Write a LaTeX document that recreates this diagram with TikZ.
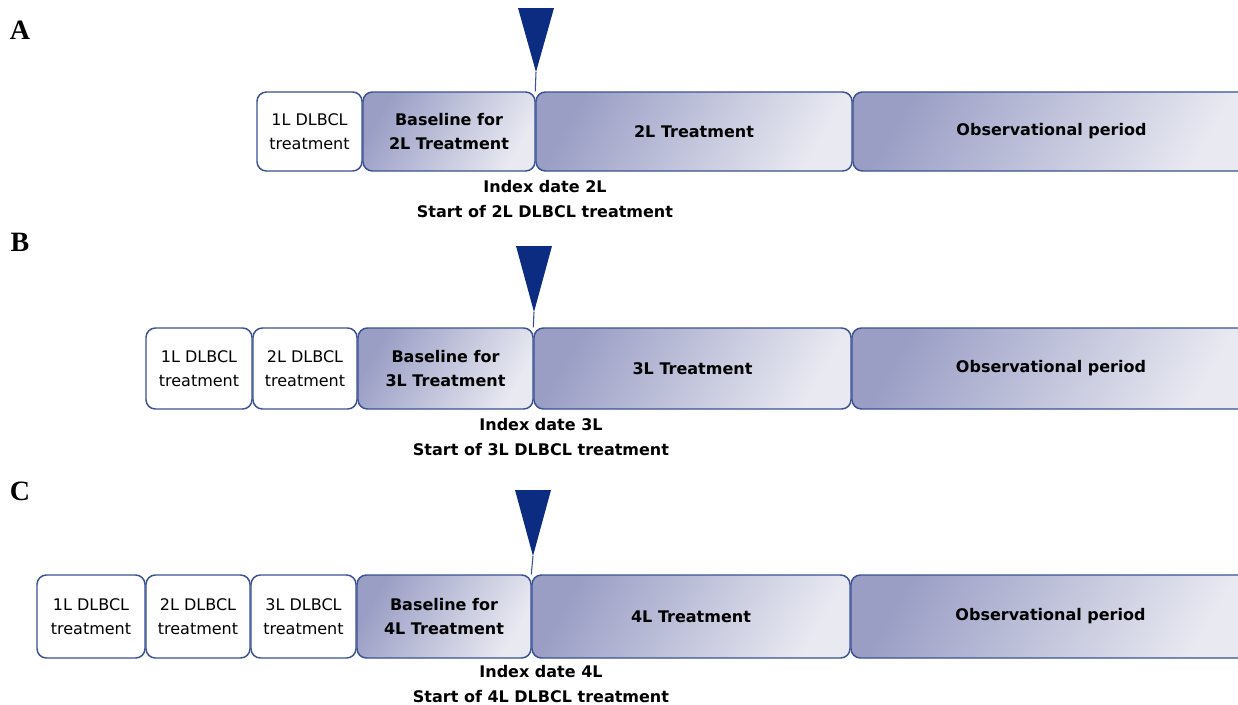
\documentclass[tikz,border=0pt]{standalone}
\usepackage{fontspec}
\setmainfont{DejaVu Sans}
\newfontfamily\panelfont{Liberation Serif}
\definecolor{boxline}{HTML}{3A5293}
\definecolor{shadedark}{HTML}{9A9EC5}
\definecolor{shadelight}{HTML}{E8E9F1}
\definecolor{marker}{HTML}{0B2C80}

\begin{document}
\begin{tikzpicture}[x=0.75pt, y=-0.75pt,
    sized/.style 2 args={minimum width=#1*0.75pt, minimum height=#2*0.75pt},
    plain/.style={draw=boxline, line width=1.1pt, rounded corners=7pt, fill=white, inner sep=0pt, align=center, font=\fontsize{12}{18}\selectfont},
    shaded/.style={plain, left color=shadedark, right color=shadelight, shading angle=60, font=\fontsize{12}{18}\selectfont\bfseries},
    panel/.style={font=\fontsize{21}{21}\selectfont\panelfont\bfseries},
    caption/.style={align=center, font=\fontsize{12}{18.75}\selectfont\bfseries},
    tip/.style={fill=marker},
    stem/.style={draw=boxline, line width=0.8pt}]
    \useasboundingbox (0,0) rectangle (1238,704);

    % A
    \node[panel] (pa) at (20,30) {A};
    \node[plain, sized={105}{79}] (a1) at (309.5,131.5) {1L DLBCL\\treatment};
    \node[shaded, sized={172}{79}] (a2) at (449,131.5) {Baseline for\\2L Treatment};
    \node[shaded, sized={316}{79}] (a3) at (694,131.5) {2L Treatment};
    \node[shaded, sized={397}{79}] (a4) at (1051.5,131.5) {Observational period};
    \fill[tip] (518,8) -- (554,8) -- (536,72) coordinate (atip) -- cycle;
    \draw[stem] (atip) -- (a3.north west);
    \node[caption] (acap) at (545,199) {Index date 2L\\Start of 2L DLBCL treatment};

    % B
    \node[panel] (pb) at (20,242) {B};
    \node[plain, sized={106}{81}] (b1) at (199,368.5) {1L DLBCL\\treatment};
    \node[plain, sized={104}{81}] (b2) at (305,368.5) {2L DLBCL\\treatment};
    \node[shaded, sized={175}{81}] (b3) at (445.5,368.5) {Baseline for\\3L Treatment};
    \node[shaded, sized={317}{81}] (b4) at (692.5,368.5) {3L Treatment};
    \node[shaded, sized={398}{81}] (b5) at (1051,368.5) {Observational period};
    \fill[tip] (516,246) -- (552,246) -- (534,312) coordinate (btip) -- cycle;
    \draw[stem] (btip) -- (b4.north west);
    \node[caption] (bcap) at (541,437) {Index date 3L\\Start of 3L DLBCL treatment};

    % C
    \node[panel] (pc) at (20,491) {C};
    \node[plain, sized={108}{83}] (c1) at (91,616.5) {1L DLBCL\\treatment};
    \node[plain, sized={104}{83}] (c2) at (198,616.5) {2L DLBCL\\treatment};
    \node[plain, sized={105}{83}] (c3) at (303.5,616.5) {3L DLBCL\\treatment};
    \node[shaded, sized={174}{83}] (c4) at (444,616.5) {Baseline for\\4L Treatment};
    \node[shaded, sized={318}{83}] (c5) at (691,616.5) {4L Treatment};
    \node[shaded, sized={399}{83}] (c6) at (1050.5,616.5) {Observational period};
    \fill[tip] (515,490) -- (551,490) -- (533,556) coordinate (ctip) -- cycle;
    \draw[stem] (ctip) -- (c5.north west);
    \node[caption] (ccap) at (541,684) {Index date 4L\\Start of 4L DLBCL treatment};
\end{tikzpicture}
\end{document}
